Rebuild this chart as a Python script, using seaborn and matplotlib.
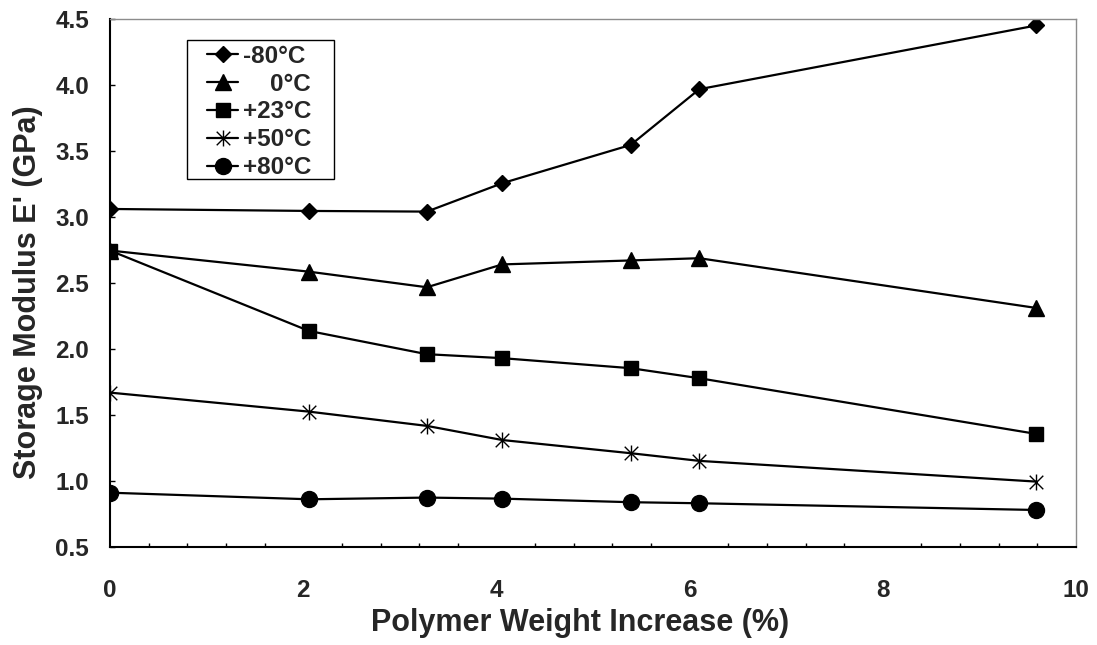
import numpy as np
import pandas as pd
import matplotlib
matplotlib.use("Agg")
import matplotlib.pyplot as plt
from matplotlib.ticker import MultipleLocator, FormatStrFormatter
from matplotlib.path import Path
from matplotlib.patches import Rectangle
import seaborn as sns

# ---- data ----
weight_increase = [0, 2.06, 3.28, 4.06, 5.39, 6.10, 9.59]
series_labels = ["-80°C", "    0°C", "+23°C", "+50°C", "+80°C"]
e_m80 = [3.06, 3.045, 3.04, 3.255, 3.545, 3.967, 4.45]
e_p0 = [2.745, 2.585, 2.467, 2.64, 2.67, 2.687, 2.31]
e_p23 = [2.745, 2.136, 1.96, 1.93, 1.854, 1.778, 1.356]
e_p50 = [1.669, 1.525, 1.417, 1.31, 1.21, 1.152, 0.995]
e_p80 = [0.911, 0.861, 0.874, 0.866, 0.839, 0.831, 0.78]
series_values = [e_m80, e_p0, e_p23, e_p50, e_p80]

# ---- styling ----
sns.set_style("white")
plt.rcParams["font.family"] = ["Liberation Sans", "DejaVu Sans"]
plt.rcParams["font.weight"] = "bold"
plt.rcParams["axes.labelweight"] = "bold"

# Excel-like star: vertical bar plus an X
star = Path([(0, -1), (0, 1), (-0.85, -0.85), (0.85, 0.85), (-0.85, 0.85), (0.85, -0.85)],
            [Path.MOVETO, Path.LINETO, Path.MOVETO, Path.LINETO, Path.MOVETO, Path.LINETO])

markers = ["D", "^", "s", star, "o"]
msizes = [7.8, 11, 10, 11.5, 11.5]
mews = [1, 1, 1, 1.0, 1]

fig = plt.figure(figsize=(10.97, 6.45), dpi=100)
ax = fig.add_axes([0.1003, 0.152, 0.8806, 0.8188])

for lab, vals, mk, ms, mew in zip(series_labels, series_values, markers, msizes, mews):
    df = pd.DataFrame({"x": weight_increase, "y": vals})
    sns.lineplot(data=df, x="x", y="y", ax=ax, color="black", linewidth=1.6,
                 marker=mk, markersize=ms, markeredgecolor="black",
                 markerfacecolor="black", markeredgewidth=mew, label=lab,
                 errorbar=None, sort=False)

ax.set_xlim(0, 10)
ax.set_ylim(0.5, 4.5)
ax.xaxis.set_major_locator(MultipleLocator(2))
ax.xaxis.set_minor_locator(MultipleLocator(0.4))
ax.yaxis.set_major_locator(MultipleLocator(0.5))
ax.yaxis.set_major_formatter(FormatStrFormatter("%.1f"))
ax.xaxis.set_major_formatter(FormatStrFormatter("%d"))

ax.tick_params(axis="x", which="major", direction="in", length=4.5, width=1,
               pad=23, labelsize=17.5, color="black")
ax.tick_params(axis="x", which="minor", direction="in", length=3, width=1,
               color="black", bottom=True)
ax.tick_params(axis="y", which="major", direction="in", length=3.8, width=1,
               pad=15, labelsize=17.5, color="black", left=True)
for t in ax.get_xticklabels() + ax.get_yticklabels():
    t.set_fontweight("bold")

for side in ["left", "bottom"]:
    ax.spines[side].set_color("black")
    ax.spines[side].set_linewidth(1.5)
for side in ["top", "right"]:
    ax.spines[side].set_color("#8c8c8c")
    ax.spines[side].set_linewidth(1.0)

ax.set_xlabel("Polymer Weight Increase (%)", fontsize=22, fontweight="bold")
ax.set_ylabel("Storage Modulus E' (GPa)", fontsize=22, fontweight="bold")
ax.xaxis.set_label_coords(0.487, -0.116)
ax.yaxis.set_label_coords(-0.069, 0.483)

# legend box (Excel style, padded frame)
ax.add_patch(Rectangle((0.0797, 0.697), 0.1522, 0.2632, transform=ax.transAxes,
                       facecolor="white", edgecolor="black", linewidth=1.0,
                       zorder=4))
leg = ax.legend(loc="upper left", bbox_to_anchor=(0.1001, 0.951),
                borderaxespad=0, frameon=False,
                prop={"size": 17.5, "weight": "bold"}, handlelength=1.3,
                handletextpad=0.2, labelspacing=0.2, borderpad=0)
leg.set_zorder(5)

fig.savefig("out.png", dpi=100, facecolor="white")
